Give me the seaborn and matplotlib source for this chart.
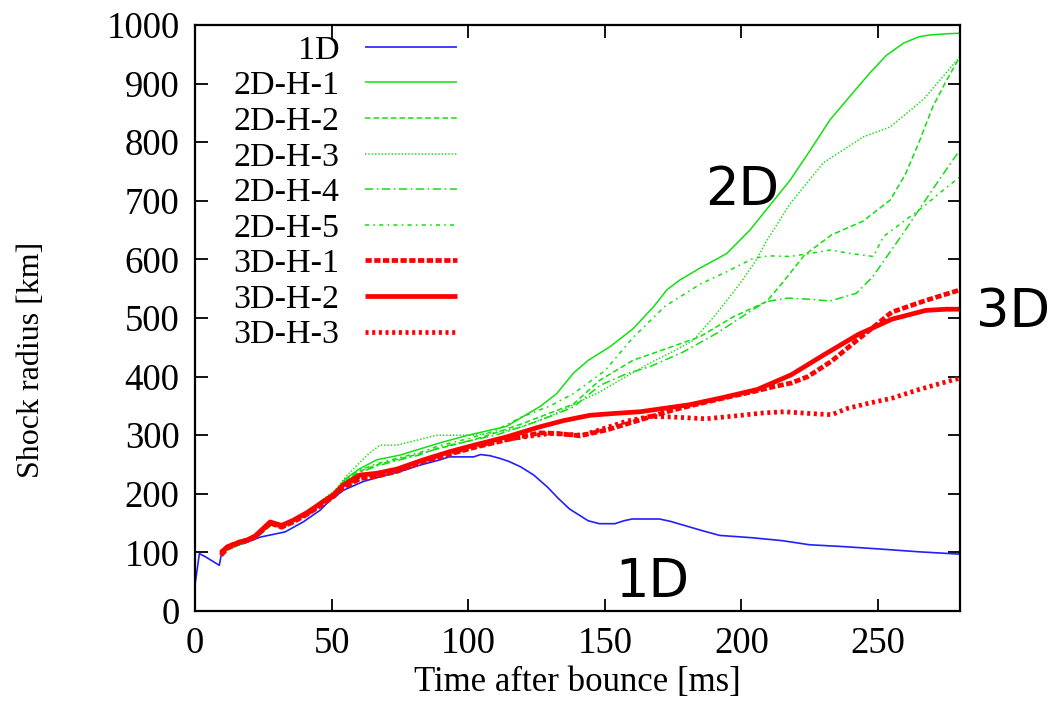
import matplotlib
matplotlib.use("Agg")
import matplotlib.pyplot as plt
import seaborn as sns
import pandas as pd

# ---------------- data ----------------
t_1d = [0, 1.6, 4, 8.9, 9.8, 13, 17.7, 23.8, 33, 39.6, 45.8, 49.4, 54.3, 61.6, 67.7, 75, 82.4,
        89.7, 93, 102, 104.5, 108, 111.9, 115, 119.2, 124, 129.1, 133, 137.1, 143.9, 148, 153.7,
        157, 160, 170, 174, 178.4, 185, 192, 204, 215, 225, 237, 250, 265, 280]
r_1d = [45, 98, 92, 78, 101, 110, 115, 126, 135, 152, 172, 189, 206, 221, 229, 238, 249,
        258, 263, 263, 267, 265, 260, 255, 246, 232, 211, 192, 174, 154, 149, 149,
        154, 157, 157, 153, 147, 138, 129, 125, 120, 113, 110, 106, 101, 97]

t_2d_1 = [10, 17, 22, 28, 32, 36, 41, 47, 51, 55, 60, 66.5, 75, 82, 89.7, 100, 114, 126.3, 132.4,
          138.5, 144, 151.9, 160.4, 167.8, 172.7, 177.5, 184.8, 194.6, 203.1, 210, 217.8, 225,
          232.4, 240, 247, 253, 259.3, 265, 269, 275, 280]
r_2d_1 = [100, 115, 125, 148, 145, 155, 168, 190, 203, 225, 242, 258, 266, 276, 287, 300, 315, 349, 371,
          406, 428, 451, 482, 519, 548, 565, 585, 610, 650, 690, 735, 785,
          838, 880, 918, 948, 969, 980, 983, 985, 986]

t_2d_2 = [10, 17, 22, 28, 32, 36, 41, 47, 51, 55, 60, 67, 75, 82, 90, 101.9, 110, 120, 130, 138.5,
          148.2, 160.4, 172.7, 184.8, 197, 209.2, 215, 223, 233, 244.4, 254.4, 260, 265, 270, 275, 280]
r_2d_2 = [100, 115, 125, 147, 144, 154, 167, 189, 201, 222, 238, 250, 260, 268, 278, 292, 304, 320, 338, 353,
          394, 428, 448, 468, 502, 528, 560, 607, 642, 665, 701, 745, 800, 860, 905, 946]

t_2d_3 = [10, 17, 22, 28, 32, 36, 41, 47, 51, 55, 60, 64, 67.7, 73.8, 80, 88.5, 95, 101.9, 108, 114,
          120, 126.3, 132, 138.5, 148.2, 157, 166.5, 175, 182.4, 191, 199.5, 205.6, 209, 217.8, 230,
          244.6, 254.4, 266.6, 280]
r_2d_3 = [100, 115, 125, 147, 144, 154, 168, 191, 205, 228, 252, 270, 283, 283, 290, 300, 300, 300, 303, 308,
          315, 326, 337, 352, 374, 398, 423, 443, 462, 508, 559, 600, 630, 695, 765,
          809, 826, 873, 946]

t_2d_4 = [10, 17, 22, 28, 32, 36, 41, 47, 51, 55, 60, 67, 75, 82, 90, 100, 110, 120, 130, 138.5,
          148.2, 158, 166.5, 178.7, 191, 203.1, 209, 217, 225, 232.4, 242, 248, 254, 260, 266.6, 273, 280]
r_2d_4 = [100, 115, 125, 147, 144, 154, 167, 189, 201, 221, 236, 248, 258, 266, 280, 290, 300, 315, 332, 348,
          385, 405, 417, 442, 474, 511, 528, 534, 532, 529, 542, 570, 610, 650, 696, 740, 787]

t_2d_5 = [10, 17, 22, 28, 32, 36, 41, 47, 51, 55, 60, 67, 75, 82, 90, 100, 110, 120, 130, 138.5,
          150, 160, 172, 185, 194.6, 204.4, 210, 217.8, 225, 232.4, 240, 248.3, 252, 258, 266.6, 273, 280]
r_2d_5 = [100, 115, 125, 147, 144, 154, 167, 190, 202, 223, 240, 252, 262, 270, 283, 294, 308, 332, 350, 371,
          410, 465, 520, 558, 579, 602, 606, 605, 610, 616, 610, 605, 639, 660, 690, 715, 741]

t_3d_1 = [9.5, 12, 16.5, 19, 22, 27.5, 31.7, 36, 41, 47, 50.6, 54.3, 60.4, 66.5, 73.8, 83.6, 93.3, 103,
          114, 122, 126.3, 132.4, 140.9, 150.7, 162.9, 175, 184.8, 196, 205, 212, 218.2, 224.3, 232.9,
          242.8, 249, 255, 267.5, 280]
r_3d_1 = [95, 108, 117, 120, 126, 150, 143, 152, 165, 183, 195, 210, 226, 230, 238, 255, 268, 280,
          292, 300, 304, 303, 299, 309, 326, 343, 354, 366, 375, 383, 389, 400, 426,
          464, 487, 510, 530, 548]

t_3d_2 = [9.5, 12, 16.5, 19, 22, 27.5, 31.7, 36, 41, 47, 50.6, 54.3, 60.4, 66.5, 73.8, 83.6, 93.3, 103,
          114, 126, 135, 144.6, 153, 162.9, 172, 181, 193, 205.8, 218.2, 230.5, 242.8, 255.1, 267.5,
          275, 280]
r_3d_2 = [100, 110, 118, 121, 128, 152, 146, 155, 168, 187, 198, 215, 232, 235, 242, 258, 272, 284,
          297, 314, 325, 334, 337, 340, 346, 352, 364, 378, 403, 438, 472, 498, 513,
          515, 515]

t_3d_3 = [9.5, 12, 16.5, 19, 22, 27.5, 31.7, 36, 41, 47, 50.6, 54.3, 60.4, 66.5, 73.8, 83.6, 93.3, 103,
          114, 122, 130, 142, 150, 158, 166.5, 175, 187, 198, 208, 215.7, 225, 233, 239, 247, 255, 265,
          278, 280]
r_3d_3 = [98, 110, 118, 121, 127, 150, 145, 154, 166, 185, 197, 213, 230, 233, 240, 257, 270, 282,
          293, 298, 303, 300, 312, 324, 332, 331, 328, 333, 338, 340, 337, 335, 346, 355, 363, 378,
          395, 397]

labels = ["1D", "2D-H-1", "2D-H-2", "2D-H-3", "2D-H-4", "2D-H-5", "3D-H-1", "3D-H-2", "3D-H-3"]
x_ticks = [0, 50, 100, 150, 200, 250]
y_ticks = [0, 100, 200, 300, 400, 500, 600, 700, 800, 900, 1000]

series = [(t_1d, r_1d), (t_2d_1, r_2d_1), (t_2d_2, r_2d_2), (t_2d_3, r_2d_3), (t_2d_4, r_2d_4),
          (t_2d_5, r_2d_5), (t_3d_1, r_3d_1), (t_3d_2, r_3d_2), (t_3d_3, r_3d_3)]

# ---------------- styles ----------------
BLUE = "#2020ff"
GREEN = "#10e010"
RED = "#ff0000"
styles = [
    dict(color=BLUE, lw=1.2, dashes=None),
    dict(color=GREEN, lw=1.1, dashes=None),
    dict(color=GREEN, lw=1.1, dashes=(4, 2.2)),
    dict(color=GREEN, lw=1.1, dashes=(1, 1.4)),
    dict(color=GREEN, lw=1.1, dashes=(6, 2.5, 1.2, 2.5)),
    dict(color=GREEN, lw=1.1, dashes=(3, 3, 1.2, 3)),
    dict(color=RED, lw=3.4, dashes=(4.5, 1.8)),
    dict(color=RED, lw=3.4, dashes=None),
    dict(color=RED, lw=3.4, dashes=(2.2, 2.6)),
]

sns.set_style("ticks")
plt.rcParams["font.family"] = ["Liberation Serif", "DejaVu Serif"]
plt.rcParams["lines.scale_dashes"] = False
plt.rcParams["text.color"] = "black"
plt.rcParams["axes.labelcolor"] = "black"
plt.rcParams["xtick.color"] = "black"
plt.rcParams["ytick.color"] = "black"

fig = plt.figure(figsize=(10.54, 7.16), dpi=100)
ax = fig.add_axes([195 / 1054, 1 - 611 / 716, 765 / 1054, 586 / 716])

for (t, r), lab, st in zip(series, labels, styles):
    df = pd.DataFrame({"t": t, "r": r})
    sns.lineplot(data=df, x="t", y="r", ax=ax, color=st["color"], linewidth=st["lw"],
                 label=lab, sort=False, estimator=None)
    line = ax.lines[-1]
    if st["dashes"] is not None:
        line.set_dashes(st["dashes"])
    line.set_dash_capstyle("butt")
    line.set_solid_capstyle("butt")

ax.set_xlim(0, 280)
ax.set_ylim(0, 1000)
ax.set_xticks(x_ticks)
ax.set_yticks(y_ticks)
ax.tick_params(direction="in", length=9, width=1.3, top=True, right=True,
               labelsize=26.5, pad=11, colors="black")
for sp in ax.spines.values():
    sp.set_visible(True)
    sp.set_linewidth(1.6)
    sp.set_color("black")

ax.set_xlabel("Time after bounce [ms]", fontsize=25)
ax.set_ylabel("Shock radius [km]", fontsize=23)
ax.xaxis.set_label_coords(0.5, (611 - 683) / 586)
ax.yaxis.set_label_coords((32 - 195) / 765, (611 - 360) / 586)
ax.xaxis.label.set_va("center")
ax.yaxis.label.set_va("center")

leg = ax.legend(loc="upper right", bbox_to_anchor=(457 / 1054, 1 - 35 / 716),
                bbox_transform=fig.transFigure, frameon=False, markerfirst=False,
                fontsize=24.5, handlelength=2.7, handletextpad=0.75, labelspacing=0.14,
                borderpad=0, borderaxespad=0)
for h, st in zip(leg.get_lines(), styles):
    if st["dashes"] is not None:
        h.set_dashes(st["dashes"])
for txt in leg.get_texts():
    txt.set_color("black")

ann_font = dict(family="DejaVu Sans", fontsize=38, color="black")
ax.text(742 / 1054, 1 - 190 / 716, "2D", transform=fig.transFigure, ha="center", va="center",
        **ann_font)
ax.text(652 / 1054, 1 - 582 / 716, "1D", transform=fig.transFigure, ha="center", va="center",
        **ann_font)
ax.text(1013 / 1054, 1 - 312 / 716, "3D", transform=fig.transFigure, ha="center", va="center",
        clip_on=False, **ann_font)

fig.savefig("out.png", dpi=100, facecolor="white")
